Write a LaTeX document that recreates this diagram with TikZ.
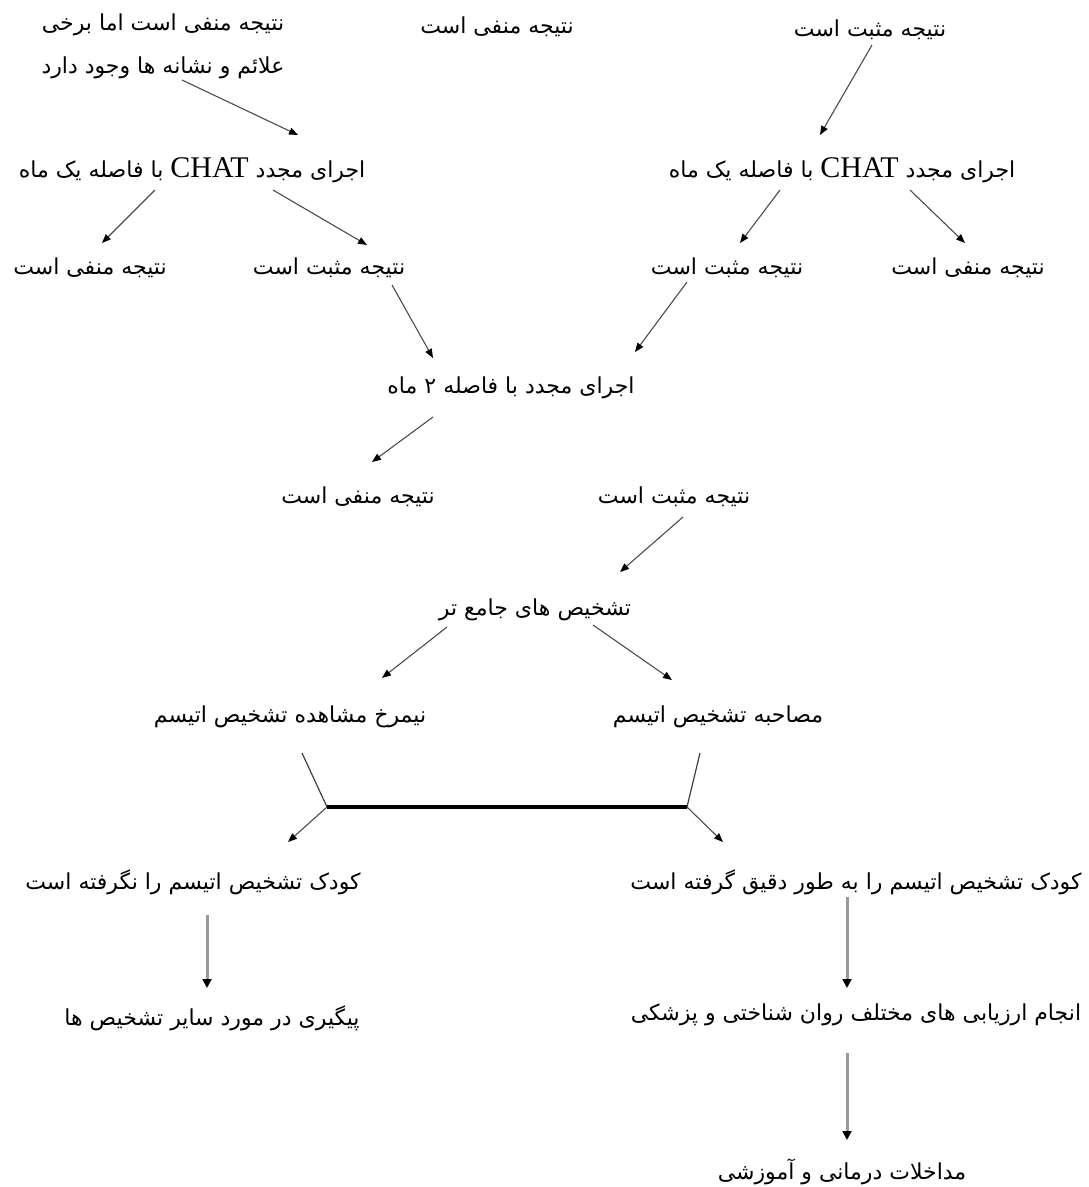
\documentclass[tikz,border=0pt]{standalone}
\usepackage{fontspec}
\setmainfont{DejaVu Sans}
\newfontfamily\fa[Script=Arabic]{DejaVu Sans}
\newfontfamily\lat{Liberation Serif}
\TeXXeTstate=1
\usetikzlibrary{arrows.meta}
\newcommand\fatext[1]{\fa\beginR #1\endR}
\newcommand\chatword{{\lat\fontsize{30}{30}\selectfont\beginL CHAT\endL}}
\begin{document}
\begin{tikzpicture}[x=1pt,y=-1pt,
  lbl/.style={font=\fa\fontsize{22}{26}\selectfont, inner sep=0pt, text=black},
  arr/.style={draw=black!70, line width=1.1pt, -{Triangle[length=9pt,width=7pt,color=black,fill=black]}},
  varr/.style={draw=black!40, line width=3pt, -{Triangle[length=9pt,width=9pt,color=black,fill=black]}},
  thinln/.style={draw=black!75, line width=1.2pt},
  thickln/.style={draw=black, line width=3.5pt}]
\useasboundingbox (0,0) rectangle (1089,1187);
% nodes
\node[lbl, align=center, font=\fa\fontsize{22}{43}\selectfont] (t1) at (163,46) {\fatext{نتیجه منفی است اما برخی}\\\fatext{علائم و نشانه ها وجود دارد}};
\node[lbl] (t2) at (497,27) {\fatext{نتیجه منفی است}};
\node[lbl] (t3) at (870,30) {\fatext{نتیجه مثبت است}};
\node[lbl] (chatL) at (192,170) {\fatext{اجرای مجدد \chatword{} با فاصله یک ماه}};
\node[lbl] (chatR) at (842,170) {\fatext{اجرای مجدد \chatword{} با فاصله یک ماه}};
\node[lbl] (r3a) at (90,268) {\fatext{نتیجه منفی است}};
\node[lbl] (r3b) at (329,268) {\fatext{نتیجه مثبت است}};
\node[lbl] (r3c) at (727,268) {\fatext{نتیجه مثبت است}};
\node[lbl] (r3d) at (968,268) {\fatext{نتیجه منفی است}};
\node[lbl] (two) at (511,388) {\fatext{اجرای مجدد با فاصله ۲ ماه}};
\node[lbl] (r5a) at (358,497) {\fatext{نتیجه منفی است}};
\node[lbl] (r5b) at (674,497) {\fatext{نتیجه مثبت است}};
\node[lbl] (diag) at (535,610) {\fatext{تشخیص های جامع تر}};
\node[lbl] (obs) at (290,717) {\fatext{نیمرخ مشاهده تشخیص اتیسم}};
\node[lbl] (intv) at (718,717) {\fatext{مصاحبه تشخیص اتیسم}};
\node[lbl] (kodL) at (193,882) {\fatext{کودک تشخیص اتیسم را نگرفته است}};
\node[lbl] (kodR) at (856,882) {\fatext{کودک تشخیص اتیسم را به طور دقیق گرفته است}};
\node[lbl] (follow) at (212,1018) {\fatext{پیگیری در مورد سایر تشخیص ها}};
\node[lbl] (assess) at (856,1015) {\fatext{انجام ارزیابی های مختلف روان شناختی و پزشکی}};
\node[lbl] (treat) at (842,1172) {\fatext{مداخلات درمانی و آموزشی}};
\coordinate (vL) at (327,807);
\coordinate (vR) at (687,807);
% arrows
\draw[arr] ([shift={(19,34)}]t1.center) -- ([shift={(106,-35)}]chatL.center);
\draw[arr] ([shift={(2,15)}]t3.center) -- ([shift={(-22,-35)}]chatR.center);
\draw[arr] ([shift={(-37,20)}]chatL.center) -- ([shift={(12,-25)}]r3a.center);
\draw[arr] ([shift={(81,20)}]chatL.center) -- ([shift={(38,-23)}]r3b.center);
\draw[arr] ([shift={(-62,20)}]chatR.center) -- ([shift={(13,-25)}]r3c.center);
\draw[arr] ([shift={(68,20)}]chatR.center) -- ([shift={(-3,-25)}]r3d.center);
\draw[arr] ([shift={(63,17)}]r3b.center) -- ([shift={(-78,-30)}]two.center);
\draw[arr] ([shift={(-40,14)}]r3c.center) -- ([shift={(124,-36)}]two.center);
\draw[arr] ([shift={(-78,29)}]two.center) -- ([shift={(14,-35)}]r5a.center);
\draw[arr] ([shift={(9,20)}]r5b.center) -- ([shift={(85,-38)}]diag.center);
\draw[arr] ([shift={(-88,17)}]diag.center) -- ([shift={(92,-39)}]obs.center);
\draw[arr] ([shift={(58,15)}]diag.center) -- ([shift={(-46,-37)}]intv.center);
% bracket
\draw[thinln] ([shift={(12,36)}]obs.center) -- (vL);
\draw[thinln] ([shift={(-18,36)}]intv.center) -- (vR);
\draw[thickln] (vL) -- (vR);
\draw[arr] (vL) -- ([shift={(95,-40)}]kodL.center);
\draw[arr] (vR) -- ([shift={(-133,-40)}]kodR.center);
% vertical arrows
\draw[varr] ([shift={(14,33)}]kodL.center) -- ([shift={(-5,-30)}]follow.center);
\draw[varr] ([shift={(-9,15)}]kodR.center) -- ([shift={(-9,-27)}]assess.center);
\draw[varr] ([shift={(-9,38)}]assess.center) -- ([shift={(5,-32)}]treat.center);
\end{tikzpicture}
\end{document}
